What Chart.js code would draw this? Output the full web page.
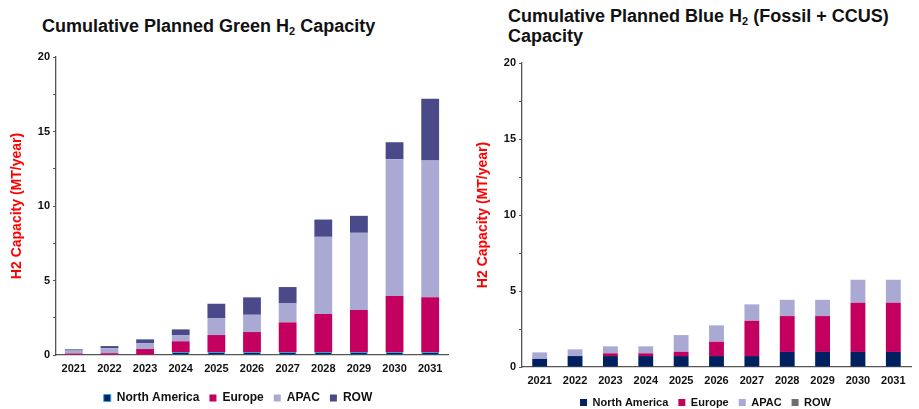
<!DOCTYPE html>
<html>
<head>
<meta charset="utf-8">
<script src="https://cdn.jsdelivr.net/npm/chart.js@4.4.1/dist/chart.umd.min.js"></script>
<style>
  html, body { margin: 0; padding: 0; background: #fff; }
  body { width: 919px; height: 409px; position: relative; overflow: hidden; font-family: "Liberation Sans", Arial, sans-serif; }
  .title { position: absolute; font-weight: bold; font-size: 18px; color: #111; line-height: 20px; white-space: nowrap; }
  .title sub { font-size: 11px; vertical-align: -3px; line-height: 0; }
  .wrap { position: absolute; top: 0; }
</style>
</head>
<body>
<div class="title" style="left:42px; top:16px;">Cumulative Planned Green H<sub>2</sub> Capacity</div>
<div class="title" style="left:508px; top:6px;">Cumulative Planned Blue H<sub>2</sub> (Fossil + CCUS)<br>Capacity</div>
<div class="wrap" style="left:0; width:460px; height:414px;"><canvas id="green"></canvas></div>
<div class="wrap" style="left:460px; width:459px; height:418px;"><canvas id="blue"></canvas></div>
<script>
const years = ['2021','2022','2023','2024','2025','2026','2027','2028','2029','2030','2031'];
const seriesNames = ['North America','Europe','APAC','ROW'];

// Green H2 (MT/year), stacked increments
const greenNorthAmerica = [0.02, 0.02, 0.03, 0.2, 0.2, 0.2, 0.2, 0.2, 0.2, 0.2, 0.2];
const greenEurope       = [0.08, 0.1, 0.37, 0.72, 1.14, 1.34, 1.99, 2.55, 2.82, 3.76, 3.67];
const greenAPAC         = [0.2, 0.33, 0.38, 0.42, 1.14, 1.16, 1.27, 5.18, 5.18, 9.18, 9.18];
const greenROW          = [0.08, 0.15, 0.27, 0.38, 0.96, 1.17, 1.1, 1.16, 1.14, 1.14, 4.15];

// Blue H2 (MT/year), stacked increments
const blueNorthAmerica = [0.53, 0.72, 0.72, 0.72, 0.72, 0.72, 0.72, 0.99, 0.99, 0.99, 0.99];
const blueEurope       = [0, 0, 0.18, 0.18, 0.28, 0.94, 2.32, 2.36, 2.36, 3.24, 3.24];
const blueAPAC         = [0.43, 0.44, 0.46, 0.46, 1.1, 1.08, 1.08, 1.07, 1.07, 1.51, 1.51];
const blueROW          = [0, 0, 0, 0, 0, 0, 0, 0, 0, 0, 0];

const yTicks = [0, 5, 10, 15, 20];

const FONT = '"Liberation Sans", Arial, sans-serif';

// shifts the legend horizontally by a given offset after layout
const legendShift = {
  id: 'legendShift',
  afterLayout(chart, args, opts) {
    const lg = chart.legend;
    if (lg && opts.dx) { lg.left += opts.dx; lg.right += opts.dx; }
  }
};

function makeChart(id, data, colors, borders, opts) {
  const datasets = seriesNames.map((name, i) => ({
    label: name,
    data: data[i],
    backgroundColor: colors[i],
    borderColor: borders[i],
    borderWidth: borders[i] === colors[i] ? 0 : 1,
    barPercentage: opts.barPct,
    categoryPercentage: 1.0
  }));
  return new Chart(document.getElementById(id), {
    type: 'bar',
    data: { labels: years, datasets },
    plugins: [legendShift],
    options: {
      responsive: true,
      maintainAspectRatio: false,
      animation: false,
      layout: { padding: opts.padding },
      plugins: {
        tooltip: { enabled: false },
        legendShift: { dx: opts.legendDx },
        legend: {
          position: 'bottom',
          labels: {
            boxWidth: 7, boxHeight: 7, padding: 10,
            color: '#111',
            font: { family: FONT, size: opts.legendFont, weight: 'bold' }
          }
        }
      },
      scales: {
        x: {
          stacked: true,
          grid: { display: false, drawTicks: false },
          border: { display: true, color: '#555', width: 1.3 },
          ticks: { color: '#111', font: { family: FONT, size: 11, weight: 'bold' }, padding: 7, maxRotation: 0 },
          afterFit: s => { s.height = opts.xHeight; }
        },
        y: {
          stacked: true,
          min: 0, max: 20,
          ticks: {
            stepSize: 2.5,
            color: '#111',
            padding: 3,
            font: { family: FONT, size: 11, weight: 'bold' },
            callback: v => (yTicks.includes(v) ? String(v) : '')
          },
          grid: { drawOnChartArea: false, drawTicks: true, tickLength: 3, color: '#555' },
          border: { display: true, color: '#555', width: 1.3 },
          title: {
            display: true,
            text: 'H2 Capacity (MT/year)',
            color: '#FF0000',
            font: { family: FONT, size: 14, weight: 'bold' },
            padding: { top: opts.titlePad, bottom: 0 }
          },
          afterFit: s => { s.width = opts.yWidth; }
        }
      }
    }
  });
}

makeChart('green',
  [greenNorthAmerica, greenEurope, greenAPAC, greenROW],
  ['#002060', '#C3005F', '#A9A9D3', '#4A4A8A'],
  ['#2BA6DE', '#C3005F', '#A9A9D3', '#4A4A8A'],
  { barPct: 0.5, padding: { top: 57, bottom: 0, left: 0, right: 12 }, yWidth: 56, xHeight: 27,
    legendFont: 12, legendDx: 14, titlePad: 9 });

makeChart('blue',
  [blueNorthAmerica, blueEurope, blueAPAC, blueROW],
  ['#002060', '#C3005F', '#A9A9D3', '#6E6E6E'],
  ['#002060', '#C3005F', '#A9A9D3', '#6E6E6E'],
  { barPct: 0.42, padding: { top: 63, bottom: 0, left: 0, right: 8 }, yWidth: 62, xHeight: 20,
    legendFont: 11, legendDx: 20, titlePad: 15 });
</script>
</body>
</html>
